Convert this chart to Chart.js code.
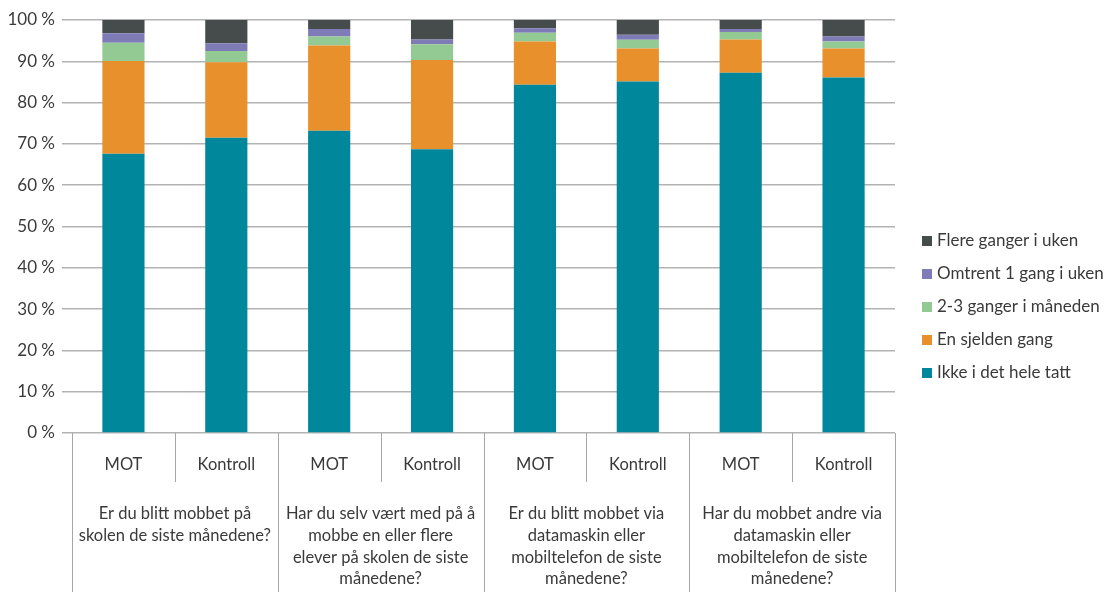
<!DOCTYPE html>
<html>
<head>
<meta charset="utf-8">
<script src="https://cdn.jsdelivr.net/npm/chart.js@4/dist/chart.umd.min.js"></script>
<style>
  html, body { margin: 0; background: #fff; }
  #wrap { width: 1115px; height: 592px; position: relative; }
</style>
</head>
<body>
<div id="wrap"><canvas id="chart"></canvas></div>
<script>
// Data
const categories = ['MOT', 'Kontroll', 'MOT', 'Kontroll', 'MOT', 'Kontroll', 'MOT', 'Kontroll'];
const groupLabels = [
  ['Er du blitt mobbet på', 'skolen de siste månedene?'],
  ['Har du selv vært med på å', 'mobbe en eller flere', 'elever på skolen de siste', 'månedene?'],
  ['Er du blitt mobbet via', 'datamaskin eller', 'mobiltelefon de siste', 'månedene?'],
  ['Har du mobbet andre via', 'datamaskin eller', 'mobiltelefon de siste', 'månedene?']
];
const seriesNames = ['Ikke i det hele tatt', 'En sjelden gang', '2-3 ganger i måneden', 'Omtrent 1 gang i uken', 'Flere ganger i uken'];
const ikkeIDetHeleTatt = [67.6, 71.5, 73.2, 68.7, 84.3, 85.1, 87.2, 86.1];
const enSjeldenGang = [22.5, 18.3, 20.6, 21.6, 10.5, 8.0, 8.1, 7.0];
const gangerIManeden = [4.4, 2.7, 2.2, 3.8, 2.1, 2.1, 1.8, 1.7];
const omtrentEnGangIUken = [2.3, 1.9, 1.8, 1.2, 1.1, 1.2, 0.7, 1.2];
const flereGangerIUken = [3.2, 5.6, 2.2, 4.7, 2.0, 3.6, 2.2, 4.0];
const yTicks = [0, 10, 20, 30, 40, 50, 60, 70, 80, 90, 100];

const colors = ['#00879b', '#e8902c', '#93c993', '#7e7bb6', '#464c4c'];
const seriesData = [ikkeIDetHeleTatt, enSjeldenGang, gangerIManeden, omtrentEnGangIUken, flereGangerIUken];

const FONT = 'Lato, "Open Sans", sans-serif';
const TEXT = '#3a3a3a';

// multi-level category axis + legend
const extras = {
  id: 'extras',
  afterDraw(chart) {
    const ctx = chart.ctx;
    const x = chart.scales.x;
    const area = chart.chartArea;
    const H = chart.height;
    const n = categories.length;
    const px = i => x.getPixelForValue(i);
    const edge = i => i === 0 ? area.left : i === n ? area.right : (px(i - 1) + px(i)) / 2;

    ctx.save();
    ctx.strokeStyle = '#a6a6a6';
    ctx.lineWidth = 1;
    for (let i = 0; i <= n; i++) {
      const ex = Math.round(edge(i)) + 0.5;
      ctx.beginPath();
      ctx.moveTo(ex, area.bottom);
      ctx.lineTo(ex, i % 2 === 0 ? H : area.bottom + 49);
      ctx.stroke();
    }

    ctx.fillStyle = TEXT;
    ctx.font = '16.5px ' + FONT;
    ctx.textAlign = 'center';
    ctx.textBaseline = 'middle';
    categories.forEach((c, i) => ctx.fillText(c, px(i), area.bottom + 32));

    groupLabels.forEach((lines, g) => {
      const cx = (edge(g * 2) + edge(g * 2 + 2)) / 2;
      lines.forEach((t, k) => ctx.fillText(t, cx, area.bottom + 81 + k * 21.7));
    });

    // legend, top item = last series
    ctx.font = '17px ' + FONT;
    ctx.textAlign = 'left';
    for (let k = 0; k < seriesNames.length; k++) {
      const s = seriesNames.length - 1 - k;
      const ly = 241 + k * 33;
      ctx.fillStyle = colors[s];
      ctx.fillRect(922, ly - 5, 10, 10);
      ctx.fillStyle = TEXT;
      ctx.fillText(seriesNames[s], 937, ly);
    }
    ctx.restore();
  }
};

new Chart(document.getElementById('chart'), {
  type: 'bar',
  data: {
    labels: categories,
    datasets: seriesNames.map((name, i) => ({
      label: name,
      data: seriesData[i],
      backgroundColor: colors[i],
      borderWidth: 0,
      categoryPercentage: 1,
      barPercentage: 0.41
    }))
  },
  options: {
    responsive: true,
    maintainAspectRatio: false,
    animation: false,
    layout: { padding: { left: 0, right: 220, top: 20, bottom: 0 } },
    plugins: { legend: { display: false }, tooltip: { enabled: false } },
    scales: {
      x: {
        stacked: true,
        grid: { display: false },
        border: { display: false },
        ticks: { display: false },
        afterFit: s => { s.height = 159; }
      },
      y: {
        stacked: true,
        min: 0,
        max: 100,
        afterBuildTicks: s => { s.ticks = yTicks.map(v => ({ value: v })); },
        grid: { color: '#b3b3b3', lineWidth: 1.5, tickLength: 10 },
        border: { display: false },
        ticks: {
          padding: 7,
          color: TEXT,
          font: { family: FONT, size: 17 },
          callback: v => v + ' %'
        },
        afterFit: s => { s.width = 72; }
      }
    }
  },
  plugins: [extras]
});
</script>
</body>
</html>
